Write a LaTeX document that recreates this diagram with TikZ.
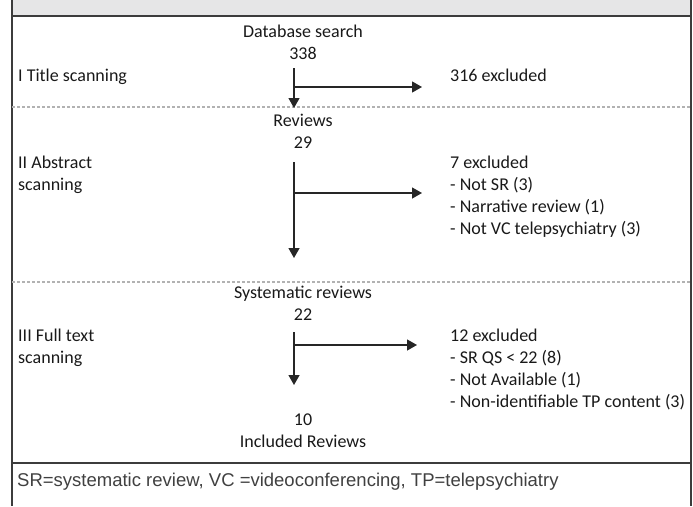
\documentclass[tikz,border=0pt]{standalone}
\usepackage{fontspec}
\setmainfont{Carlito}
\newfontfamily\notefont{Liberation Sans}
\usepackage{tikz}
\usetikzlibrary{arrows.meta,positioning}
\definecolor{headgray}{HTML}{E6E6E7}
\definecolor{framegray}{HTML}{3C3C3C}
\tikzset{
    %Define standard arrow tip
    >={Triangle[width=11pt,length=10pt]},
    %Define style for text lines
    txt/.style={
           inner sep=0pt,
           text height=13pt,
           text depth=4pt,
           font=\fontsize{18}{21.5}\selectfont,
           text=black!90},
    stage/.style={
           txt,
           anchor=west},
    % Define arrow style
    pil/.style={
           ->,
           line width=1.3pt,
           draw=black!85},
    sepline/.style={
           draw=black!30,
           line width=1.2pt,
           dash pattern=on 3pt off 2pt},
    frameline/.style={
           draw=framegray,
           line width=1.5pt}
}
\begin{document}
\begin{tikzpicture}[x=1pt,y=-1pt,node distance=4.5pt]
\useasboundingbox (0,0) rectangle (693,506);
 %frame
\fill[headgray] (12,0) rectangle (691,16);
\draw[frameline] (12,0) -- (12,506);
\draw[frameline] (691,0) -- (691,506);
\draw[frameline] (12,16) -- (691,16);
\draw[frameline] (12,463) -- (691,463);
\draw[sepline] (12,107) -- (691,107);
\draw[sepline] (12,282) -- (691,282);
 %nodes
\node[txt] (db) at (303,33) {Database search};
\node[txt, below=of db] (n338) {338};
\node[txt] (rev) at (303,122) {Reviews};
\node[txt, below=of rev] (n29) {29};
\node[txt] (sys) at (303,294) {Systematic reviews};
\node[txt, below=of sys] (n22) {22};
\node[txt] (n10) at (303,421) {10};
\node[txt, below=of n10] (incl) {Included Reviews};
 %stages
\node[stage] (s1) at (18,77) {I Title scanning};
\node[stage] (s2) at (18,164) {II Abstract};
\node[txt, below=of s2.south west, anchor=north west] (s2b) {scanning};
\node[stage] (s3) at (18,337) {III Full text};
\node[txt, below=of s3.south west, anchor=north west] (s3b) {scanning};
 %exclusions
\node[stage] (x1) at (450,77) {316 excluded};
\node[stage] (x2) at (450,164) {7 excluded};
\node[txt, below=of x2.south west, anchor=north west] (x2a) {- Not SR (3)};
\node[txt, below=of x2a.south west, anchor=north west] (x2b) {- Narrative review (1)};
\node[txt, below=of x2b.south west, anchor=north west] (x2c) {- Not VC telepsychiatry (3)};
\node[stage] (x3) at (450,337) {12 excluded};
\node[txt, below=of x3.south west, anchor=north west] (x3a) {- SR QS < 22 (8)};
\node[txt, below=of x3a.south west, anchor=north west] (x3b) {- Not Available (1)};
\node[txt, below=of x3b.south west, anchor=north west] (x3c) {- Non-identifiable TP content (3)};
 %footnote
\node[inner sep=0pt, anchor=west, text=black!75,
      font=\notefont\fontsize{18.5}{22}\selectfont] (note) at (17,482)
  {SR=systematic review, VC =videoconferencing, TP=telepsychiatry};
 %arrows
\coordinate (v1) at (294,68);  \coordinate (w1) at (294,108);
\coordinate (j1) at (294,87);  \coordinate (e1) at (422,87);
\coordinate (v2) at (294,162); \coordinate (w2) at (294,258);
\coordinate (j2) at (294,193); \coordinate (e2) at (422,193);
\coordinate (v3) at (294,332); \coordinate (w3) at (294,385);
\coordinate (j3) at (294,345); \coordinate (e3) at (417,345);
\foreach \i in {1,2,3}{
  \draw[pil] (v\i) -- (w\i);
  \draw[pil] (j\i) -- (e\i);
}
\end{tikzpicture}
\end{document}
